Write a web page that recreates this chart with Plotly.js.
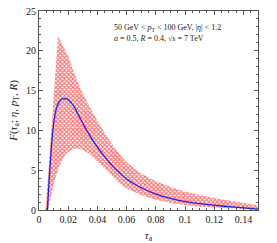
<!DOCTYPE html>
<html><head><meta charset="utf-8">
<script src="https://cdn.plot.ly/plotly-3.0.1.min.js"></script>
<style>html,body{margin:0;padding:0;background:#fff;}</style>
</head><body><div id="plot" style="width:277px;height:243px;"></div>
<script>
// central curve
const tauCentral = [0.0058,0.0065,0.0074,0.0082,0.009,0.010,0.011,0.012,0.013,0.014,0.015,0.016,0.017,0.018,0.019,0.020,0.021,0.022,0.024,0.026,0.028,0.030,0.033,0.036,0.040,0.045,0.050,0.055,0.060,0.065,0.070,0.080,0.090,0.100,0.110,0.120,0.130,0.140,0.150];
const fCentral   = [0,2.5,5,7.2,9,10.8,12,12.8,13.3,13.65,13.85,13.95,14.0,14.0,13.95,13.85,13.7,13.5,13.0,12.3,11.6,10.9,9.9,9.0,7.9,6.7,5.6,4.7,3.9,3.3,2.8,2.0,1.45,1.05,0.8,0.6,0.42,0.27,0.12];
// band upper edge
const tauUpper = [0.0045,0.006,0.008,0.010,0.012,0.013,0.014,0.016,0.018,0.020,0.023,0.026,0.030,0.035,0.040,0.045,0.050,0.055,0.060,0.070,0.080,0.090,0.100,0.110,0.120,0.130,0.140,0.150];
const fUpper   = [0,4,9.5,15,20,21.8,21.5,20.8,20.1,19.3,17.8,16.3,14.6,12.8,11.2,9.7,8.3,7.1,6.0,4.6,3.6,2.9,2.3,1.9,1.5,1.2,0.9,0.6];
// band lower edge
const tauLower = [0.0062,0.008,0.010,0.012,0.014,0.016,0.018,0.020,0.022,0.024,0.026,0.028,0.030,0.035,0.040,0.045,0.050,0.055,0.060,0.070,0.080,0.090,0.100,0.110,0.120,0.130,0.140,0.150];
const fLower   = [0,1.6,3.2,4.5,5.5,6.3,6.9,7.3,7.55,7.7,7.75,7.7,7.55,7.0,6.2,5.2,4.3,3.4,2.7,1.9,1.3,0.9,0.6,0.4,0.28,0.18,0.1,0.03];

const bandX = tauUpper.concat(tauLower.slice().reverse());
const bandY = fUpper.concat(fLower.slice().reverse());

const font = {family: '"Liberation Serif", "DejaVu Serif", serif', size: 10, color: '#222'};

const traces = [
  {x: bandX, y: bandY, type: 'scatter', mode: 'lines', fill: 'toself',
   line: {width: 0, color: 'rgba(0,0,0,0)'},
   fillcolor: 'rgba(255,255,255,0)',
   fillpattern: {shape: 'x', size: 3, solidity: 0.6, fgcolor: '#ff7070', bgcolor: '#ffffff', fillmode: 'replace'},
   hoverinfo: 'skip', showlegend: false},
  {x: tauCentral, y: fCentral, type: 'scatter', mode: 'lines',
   line: {color: '#2020e0', width: 1.3, shape: 'spline'}, showlegend: false}
];

const axisCommon = {
  showgrid: false, zeroline: false, showline: true, mirror: 'allticks',
  linecolor: '#555', linewidth: 1, ticks: 'inside', ticklen: 4, tickcolor: '#555',
  tickfont: font
};

const layout = {
  width: 277, height: 243,
  margin: {l: 39, r: 19, t: 11, b: 33},
  paper_bgcolor: '#fff', plot_bgcolor: '#fff',
  font: font,
  xaxis: Object.assign({}, axisCommon, {
    range: [0, 0.15], tickvals: [0,0.02,0.04,0.06,0.08,0.1,0.12,0.14],
    ticktext: ['0','0.02','0.04','0.06','0.08','0.1','0.12','0.14'],
    minor: {dtick: 0.005, ticks: 'inside', ticklen: 2, tickcolor: '#555'},
    title: {text: '<i>τ</i><sub>a</sub>', font: {family: font.family, size: 11, color: '#222'}, standoff: 7}
  }),
  yaxis: Object.assign({}, axisCommon, {
    range: [0, 25], dtick: 5,
    minor: {dtick: 1, ticks: 'inside', ticklen: 2, tickcolor: '#555'},
    title: {text: '<i>F</i>(<i>τ</i><sub>a</sub>; <i>η</i>, <i>p</i><sub>T</sub>, <i>R</i>)', font: {family: font.family, size: 11, color: '#222'}, standoff: 6}
  }),
  annotations: [
    {xref: 'paper', yref: 'paper', x: 0.335, y: 0.915, xanchor: 'left', yanchor: 'middle', showarrow: false,
     text: '50 GeV &lt; <i>p</i><sub>T</sub> &lt; 100 GeV, |<i>η</i>| &lt; 1.2', font: {family: font.family, size: 8, color: '#222'}},
    {xref: 'paper', yref: 'paper', x: 0.335, y: 0.862, xanchor: 'left', yanchor: 'middle', showarrow: false,
     text: '<i>a</i> = 0.5, <i>R</i> = 0.4, √<i>s</i> = 7 TeV', font: {family: font.family, size: 8, color: '#222'}}
  ]
};

Plotly.newPlot('plot', traces, layout, {displayModeBar: false, staticPlot: true});
</script></body></html>
